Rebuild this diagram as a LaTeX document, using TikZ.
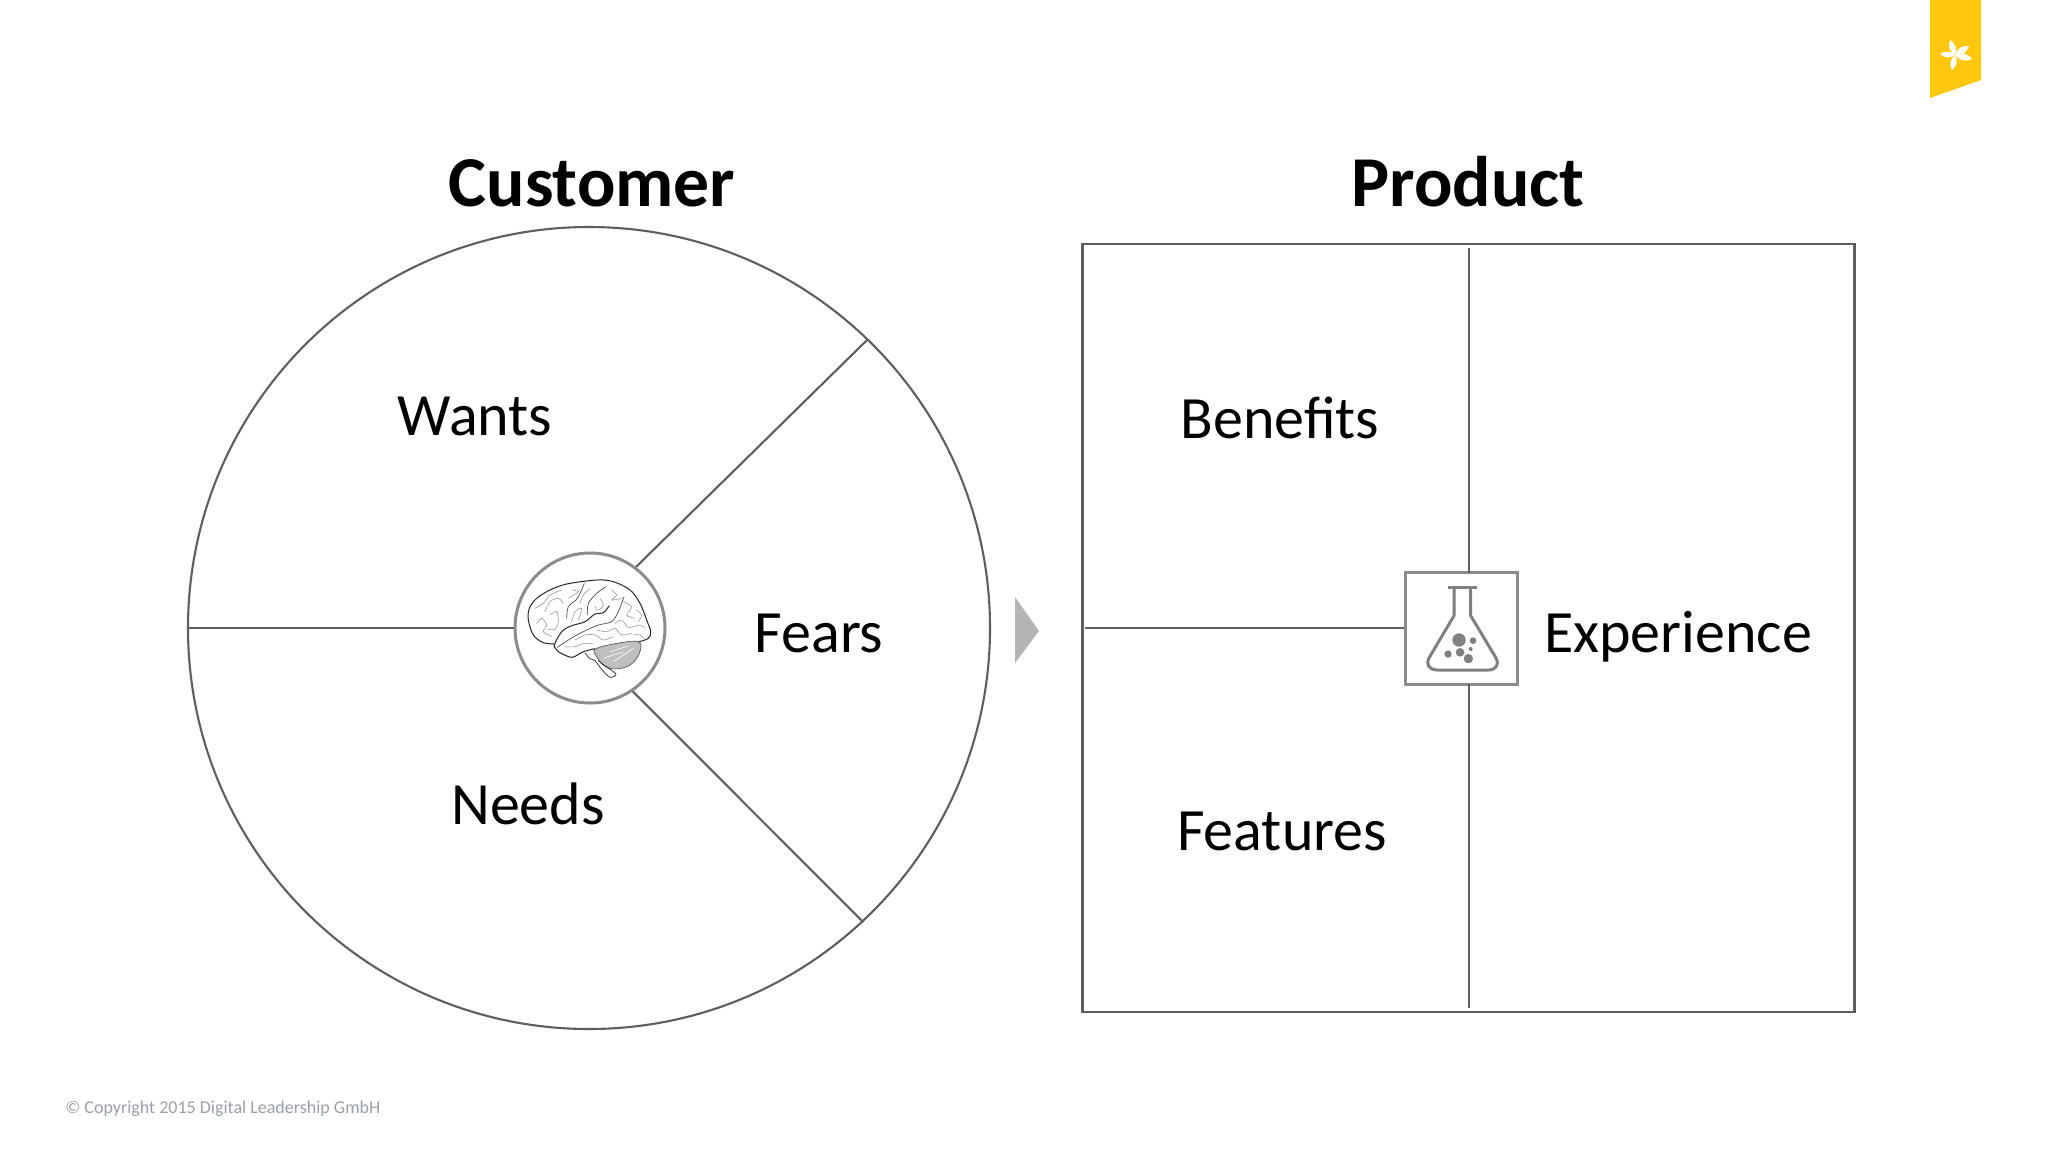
\documentclass[tikz,border=0pt]{standalone}
\usepackage{fontspec}
\setmainfont{Carlito}
\definecolor{ln}{HTML}{5E5E5E}
\definecolor{frame}{HTML}{8C8C8C}
\definecolor{flask}{HTML}{808080}
\definecolor{tri}{HTML}{B4B4B4}
\definecolor{rib}{HTML}{FFC80F}
\definecolor{copyc}{HTML}{9AA0A8}
\begin{document}
\begin{tikzpicture}[x=0.5pt,y=-0.5pt,
  linie/.style={draw=ln,line width=1.05pt},
  title/.style={font=\fontsize{35.8}{36}\selectfont\bfseries,anchor=base,inner sep=0pt},
  lab/.style={font=\fontsize{30}{30}\selectfont,anchor=base,inner sep=0pt,text=black},
  gyr/.style={draw=black!40,line width=0.3pt,line cap=round},
  brn/.style={draw=black!85,line width=0.5pt,line join=round}]
\useasboundingbox (0,0) rectangle (2048,1152);
\fill[white] (0,0) rectangle (2048,1152);
% ribbon
\fill[rib] (1930,0) -- (1981,0) -- (1981,80) -- (1930,98) -- cycle;
\coordinate (fc) at (1955,55);
\foreach \tx/\ty in {1950/40,1969/46,1972/59,1952/70,1940/54}
  \fill[white] (fc) to[bend left=42] (\tx,\ty) to[bend left=42] (fc);
% titles
\node[title] (tc) at (592,206) {Customer};
\node[title] (tp) at (1468,206) {Product};
% customer circle
\node[circle,linie,minimum size=401pt,inner sep=0pt] (big) at (589,628) {};
\node[circle,draw=frame,line width=1.5pt,minimum size=75pt,inner sep=0pt] (hub) at (590,628) {};
\draw[linie] (hub.53.5) -- (big.46.8);
\draw[linie] (hub.-56) -- (big.-47.4);
\draw[linie] (hub.180) -- (big.180);
% brain, traced in zoom coordinates
\begin{scope}[shift={(500,540)},x=0.16667pt,y=-0.16667pt]
 \filldraw[fill=black!25,draw=black!65,line width=0.35pt] plot[smooth cycle,tension=0.6] coordinates {(285,328)(340,312)(415,305)(418,340)(390,375)(345,387)(310,375)(290,350)};
 \draw[white,line width=0.3pt] (310,355)--(370,335) (340,365)--(400,325) (330,335)--(385,318);
 \draw[brn,line width=0.35pt] plot[smooth,tension=0.5] coordinates {(255,338)(268,355)(285,362)(305,388)(330,412)(348,402)(318,380)(295,362)};
 \draw[brn] plot[smooth,tension=0.55] coordinates {(165,312)(130,308)(100,285)(85,240)(88,205)(110,175)(150,150)(200,132)(290,120)(340,125)(390,150)(420,190)(440,240)(452,275)(445,295)(418,305)};
 \draw[brn] plot[smooth,tension=0.5] coordinates {(162,318)(172,295)(190,270)(215,257)(255,245)(285,222)(310,218)(328,197)};
 \draw[brn] plot[smooth,tension=0.5] coordinates {(162,318)(175,335)(215,352)(250,335)(285,326)};
 \draw[brn,line width=0.35pt,draw=black!70] plot[smooth,tension=0.5] coordinates {(172,322)(205,300)(230,285)(260,270)(295,255)(335,245)(355,215)(372,170)};
 \draw[brn,line width=0.35pt,draw=black!70] plot[smooth,tension=0.5] coordinates {(200,235)(205,200)(232,175)(253,130)};
 \draw[brn,line width=0.35pt,draw=black!70] plot[smooth,tension=0.5] coordinates {(262,225)(265,190)(290,160)(318,140)};
 \draw[gyr] plot[smooth] coordinates {(105,205)(130,190)(150,165)(185,150)};
 \draw[gyr] plot[smooth] coordinates {(135,215)(150,185)(175,175)(190,190)};
 \draw[gyr] plot[smooth] coordinates {(110,250)(125,235)(140,255)(130,275)(155,290)};
 \draw[gyr] plot[smooth] coordinates {(150,225)(170,215)(175,245)(165,268)(145,268)};
 \draw[gyr] plot[smooth] coordinates {(215,245)(225,215)(245,205)(235,240)};
 \draw[gyr] plot[smooth] coordinates {(215,150)(235,155)(205,175)};
 \draw[gyr] plot[smooth] coordinates {(270,145)(250,165)(240,190)};
 \draw[gyr] plot[smooth] coordinates {(285,200)(295,210)(310,195)(300,175)};
 \draw[gyr] plot[smooth] coordinates {(335,150)(350,165)(335,180)(365,175)};
 \draw[gyr] plot[smooth] coordinates {(370,185)(395,200)(380,225)(405,235)};
 \draw[gyr] plot[smooth] coordinates {(345,250)(365,240)(385,262)(420,255)(435,265)};
 \draw[gyr] plot[smooth] coordinates {(290,270)(320,275)(345,265)(365,285)(395,280)};
 \draw[gyr] plot[smooth] coordinates {(225,300)(255,285)(285,285)(310,300)(340,290)};
 \draw[gyr] plot[smooth] coordinates {(195,320)(225,320)(250,310)(280,312)};
 \draw[gyr] plot[smooth] coordinates {(410,210)(425,225)(415,245)};
 \draw[gyr] plot[smooth] coordinates {(400,285)(420,285)(435,300)};
\end{scope}
% arrow
\fill[tri] (1015,597) -- (1039,631) -- (1015,663) -- cycle;
% product square
\node[rectangle,linie,minimum width=386pt,minimum height=384pt,inner sep=0pt] (sq) at (1468.5,628) {};
\node[rectangle,draw=frame,line width=1.5pt,minimum size=56pt,inner sep=0pt] (fb) at (1461,628) {};
\coordinate (vt) at (1469,248);
\coordinate (vb) at (1469,1008);
\coordinate (hl) at (1085,628);
\coordinate (vf) at (1469,573);
\coordinate (vg) at (1469,684);
\draw[linie] (vt) -- (vf);
\draw[linie] (vg) -- (vb);
\draw[linie] (hl) -- (fb.west);
% flask
\begin{scope}[shift={(1380,550)},x=0.16667pt,y=-0.16667pt]
 \draw[flask,line width=1.5pt] (205,112) -- (290,112);
 \draw[flask,line width=1.5pt,line join=round] (222,112) -- (222,197) -- (148,322) .. controls (135,345) and (150,360) .. (172,360) -- (325,360) .. controls (347,360) and (360,345) .. (347,322) -- (272,197) -- (272,112);
 \fill[flask] (237,270) circle[radius=20] (279,272) circle[radius=10] (272,297) circle[radius=6] (204,312) circle[radius=11] (240,307) circle[radius=13] (265,326) circle[radius=14];
\end{scope}
% labels
\node[lab] (wants) at (475,435) {Wants};
\node[lab] (fears) at (819,652) {Fears};
\node[lab] (needs) at (528,824) {Needs};
\node[lab] (ben) at (1280,438) {Benefits};
\node[lab] (exp) at (1678,652) {Experience};
\node[lab] (fea) at (1282,850) {Features};
\node[font=\fontsize{9}{9}\selectfont,text=copyc,anchor=base west,inner sep=0pt] (copy) at (65,1113) {© Copyright 2015 Digital Leadership GmbH};
\end{tikzpicture}
\end{document}
